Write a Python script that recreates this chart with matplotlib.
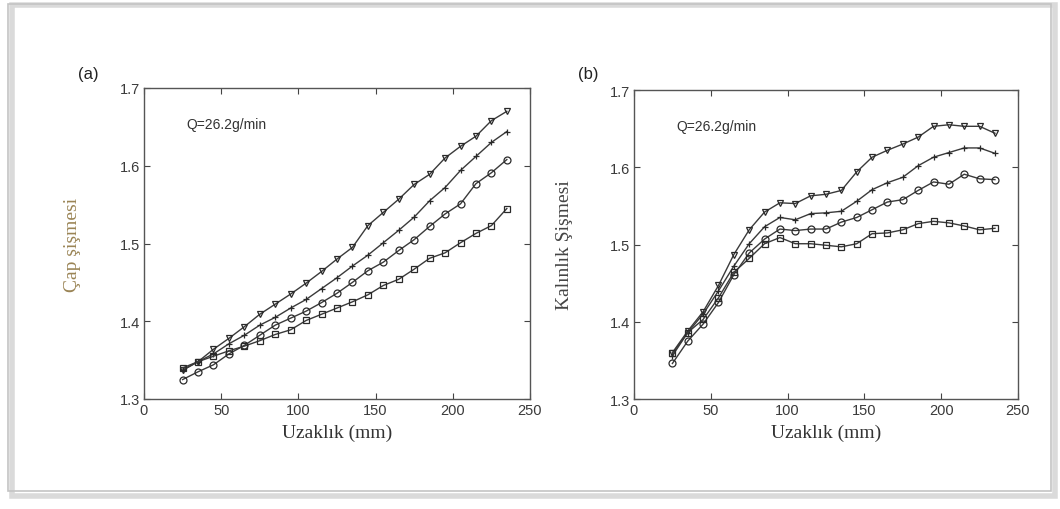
import matplotlib
matplotlib.use("Agg")
import matplotlib.pyplot as plt
from matplotlib.patches import Rectangle

# ---------------- data ----------------
distance = [25, 35, 45, 55, 65, 75, 85, 95, 105, 115, 125, 135, 145, 155, 165,
            175, 185, 195, 205, 215, 225, 235]

# (a) diameter swell
cap_tri = [1.337, 1.348, 1.364, 1.378, 1.393, 1.409, 1.422, 1.435, 1.449, 1.464, 1.480,
           1.495, 1.523, 1.540, 1.557, 1.576, 1.589, 1.610, 1.625, 1.638, 1.658, 1.670]
cap_plus = [1.337, 1.348, 1.358, 1.371, 1.382, 1.395, 1.405, 1.417, 1.428, 1.442, 1.456,
            1.471, 1.485, 1.501, 1.517, 1.534, 1.555, 1.572, 1.594, 1.612, 1.630, 1.644]
cap_circ = [1.325, 1.335, 1.344, 1.358, 1.369, 1.382, 1.395, 1.404, 1.413, 1.424, 1.436,
            1.450, 1.465, 1.476, 1.491, 1.505, 1.522, 1.538, 1.551, 1.577, 1.591, 1.608]
cap_sq = [1.340, 1.348, 1.355, 1.362, 1.368, 1.375, 1.383, 1.389, 1.401, 1.409, 1.417,
          1.425, 1.434, 1.446, 1.454, 1.467, 1.481, 1.488, 1.501, 1.513, 1.523, 1.545]

# (b) thickness swell
kal_tri = [1.360, 1.388, 1.413, 1.447, 1.487, 1.519, 1.542, 1.554, 1.553, 1.563, 1.565,
           1.570, 1.594, 1.613, 1.622, 1.630, 1.639, 1.653, 1.655, 1.653, 1.653, 1.644]
kal_plus = [1.356, 1.386, 1.410, 1.440, 1.472, 1.501, 1.523, 1.535, 1.532, 1.540, 1.541,
            1.543, 1.556, 1.571, 1.580, 1.587, 1.602, 1.613, 1.619, 1.625, 1.625, 1.618]
kal_circ = [1.346, 1.375, 1.397, 1.425, 1.461, 1.489, 1.507, 1.520, 1.518, 1.520, 1.520,
            1.529, 1.535, 1.545, 1.555, 1.558, 1.570, 1.581, 1.578, 1.591, 1.585, 1.584]
kal_sq = [1.359, 1.386, 1.403, 1.431, 1.464, 1.482, 1.501, 1.509, 1.501, 1.501, 1.499,
          1.497, 1.501, 1.514, 1.515, 1.519, 1.527, 1.530, 1.528, 1.524, 1.519, 1.521]

x_ticks = [0, 50, 100, 150, 200, 250]
y_ticks = [1.3, 1.4, 1.5, 1.6, 1.7]
annotation = "Q=26.2g/min"
xlabel = "Uzaklık (mm)"
ylabel_a = "Çap şişmesi"
ylabel_b = "Kalınlık Şişmesi"

# ---------------- figure ----------------
fig = plt.figure(figsize=(10.6, 5.1), dpi=100)
fig.patch.set_facecolor("white")

# screenshot frame with shadow
fig.patches.append(Rectangle((12 / 1060, 1 - 497 / 510), 1043 / 1060, 491 / 510,
                             transform=fig.transFigure, fill=False,
                             edgecolor="#dadada", linewidth=4, zorder=0))
fig.patches.append(Rectangle((8 / 1060, 1 - 492 / 510), 1043 / 1060, 487 / 510,
                             transform=fig.transFigure, fill=False,
                             edgecolor="#c4c4c4", linewidth=1.2, zorder=1))

ax_a = fig.add_axes([144 / 1060, 110 / 510, 386 / 1060, 311 / 510])
ax_b = fig.add_axes([634 / 1060, 110 / 510, 384 / 1060, 309 / 510])

series_a = [(cap_tri, "v"), (cap_plus, "+"), (cap_circ, "o"), (cap_sq, "s")]
series_b = [(kal_tri, "v"), (kal_plus, "+"), (kal_circ, "o"), (kal_sq, "s")]

line_col = "#3a3a3a"
for ax, series in ((ax_a, series_a), (ax_b, series_b)):
    for vals, mk in series:
        ax.plot(distance, vals, color=line_col, linewidth=1.0, marker=mk,
                markersize=5, markerfacecolor="none",
                markeredgecolor="#2a2a2a", markeredgewidth=0.9)
    ax.set_xlim(0, 250)
    ax.set_ylim(1.3, 1.7)
    ax.set_xticks(x_ticks)
    ax.set_yticks(y_ticks)
    ax.set_xticklabels([str(t) for t in x_ticks])
    ax.set_yticklabels([f"{t:.1f}" for t in y_ticks])
    ax.tick_params(direction="in", length=4, width=0.8, top=True, right=True,
                   labelsize=10.5, labelcolor="#3a3a3a", color="#444444", pad=3)
    for lab in ax.get_xticklabels() + ax.get_yticklabels():
        lab.set_family("Liberation Sans")
    for sp in ax.spines.values():
        sp.set_color("#555555")
        sp.set_linewidth(1.0)
    ax.text(0.11, 0.885, annotation, transform=ax.transAxes, fontsize=10,
            family="Liberation Sans", color="#333333", va="center", ha="left")
    ax.set_xlabel(xlabel, family="Liberation Serif", fontsize=14, color="#333333",
                  labelpad=5)

ax_a.set_ylabel(ylabel_a, family="Liberation Serif", fontsize=14, color="#9a8455",
                labelpad=28)
ax_b.set_ylabel(ylabel_b, family="Liberation Serif", fontsize=14, color="#444444",
                labelpad=26)

fig.text(88 / 1060, 1 - 75 / 510, "(a)", family="Liberation Sans", fontsize=12,
         color="#222222", ha="center", va="center")
fig.text(588 / 1060, 1 - 75 / 510, "(b)", family="Liberation Sans", fontsize=12,
         color="#222222", ha="center", va="center")

fig.savefig("out.png", dpi=100, facecolor="white")
